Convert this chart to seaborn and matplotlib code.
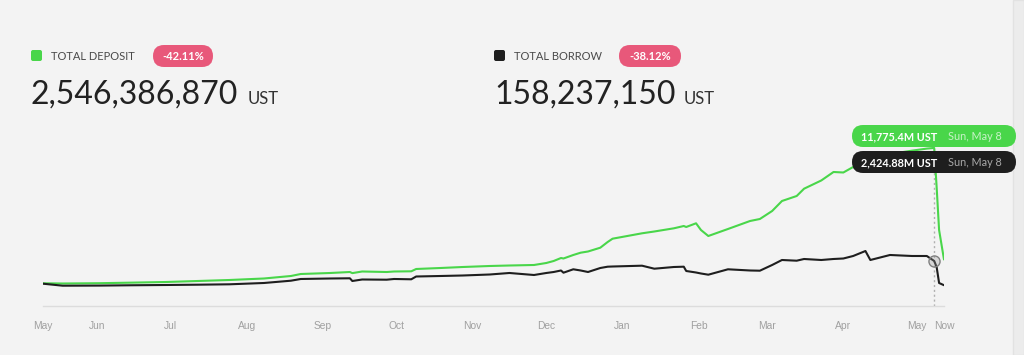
import pandas as pd
import numpy as np
import matplotlib
matplotlib.use('Agg')
import matplotlib.pyplot as plt
import matplotlib.dates as mdates
from matplotlib.patches import FancyBboxPatch, Rectangle
import seaborn as sns

# ~~~~~~~~~~~~~~~~~~~~~~~~~~~~ data (million UST) ~~~~~~~~~~~~~~~~~~~~~~~~~~~~
dates = ["2021-05-10", "2021-05-18", "2021-06-02", "2021-06-14", "2021-06-29", "2021-07-12",
         "2021-07-25", "2021-08-08", "2021-08-19", "2021-08-23", "2021-09-04", "2021-09-12",
         "2021-09-13", "2021-09-17", "2021-09-27", "2021-09-30", "2021-10-07", "2021-10-09",
         "2021-10-19", "2021-10-28", "2021-11-08", "2021-11-16", "2021-11-26", "2021-12-01",
         "2021-12-04", "2021-12-07", "2021-12-08", "2021-12-12", "2021-12-15", "2021-12-18",
         "2021-12-23", "2021-12-26", "2021-12-28", "2022-01-09", "2022-01-14", "2022-01-22",
         "2022-01-26", "2022-01-27", "2022-01-31", "2022-02-02", "2022-02-05", "2022-02-13",
         "2022-02-22", "2022-02-26", "2022-03-03", "2022-03-07", "2022-03-13", "2022-03-16",
         "2022-03-23", "2022-03-28", "2022-04-01", "2022-04-05", "2022-04-10", "2022-04-12",
         "2022-04-20", "2022-04-29", "2022-05-05", "2022-05-08", "2022-05-09", "2022-05-10",
         "2022-05-12"]
deposit = [579, 562, 587, 629, 686, 769, 852, 976, 1183, 1348,
           1431, 1513, 1420, 1555, 1513, 1555, 1571, 1762, 1845, 1927,
           2010, 2051, 2093, 2258, 2423, 2671, 2630, 2920, 3110, 3209,
           3523, 3995, 4268, 4714, 4863, 5128, 5318, 5236, 5542, 4987,
           4491, 5070, 5732, 5897, 6559, 7386, 7800, 8403, 9082, 9785,
           9743, 10198, 10694, 10860, 11273, 11550, 11720, 11775, 8543, 4987,
           2546]
borrow = [546, 380, 389, 414, 438, 463, 496, 604, 794, 935,
          976, 993, 769, 893, 877, 935, 910, 1141, 1183, 1224,
          1307, 1431, 1265, 1431, 1513, 1638, 1456, 1737, 1638, 1513,
          1844, 1952, 1968, 2035, 1786, 1927, 1952, 1596, 1472, 1390,
          1290, 1737, 1638, 1621, 2093, 2506, 2448, 2589, 2506, 2589,
          2630, 2837, 3250, 2506, 2920, 2837, 2837, 2425, 1927, 604,
          420]
tick_dates = ["2021-05-10", "2021-06-01", "2021-07-01", "2021-08-01", "2021-09-01", "2021-10-01",
              "2021-11-01", "2021-12-01", "2022-01-01", "2022-02-01", "2022-03-01", "2022-04-01",
              "2022-05-01", "2022-05-12"]
tick_labels = ["May", "Jun", "Jul", "Aug", "Sep", "Oct", "Nov", "Dec", "Jan", "Feb", "Mar",
               "Apr", "May", "Now"]
hover_date = "2022-05-08"

GREEN = '#49d64a'
DARK = '#1e1e1e'
BG = '#f3f3f3'

df = pd.DataFrame({'date': pd.to_datetime(dates * 2),
                   'value': deposit + borrow,
                   'series': ['Total Deposit'] * len(dates) + ['Total Borrow'] * len(dates)})

sns.set_theme(style='white')
plt.rcParams['font.family'] = ['Lato', 'DejaVu Sans']

fig = plt.figure(figsize=(10.24, 3.55), dpi=100, facecolor=BG)
W, H = 1024, 355


def px(x, y):
    # pixel (top-left origin) -> inches for dpi_scale_trans
    return x / 100, (H - y) / 100


def pill(x0, y0, x1, y1, color, r=10):
    xa, ya = px(x0, y1)
    p = FancyBboxPatch((xa, ya), (x1 - x0) / 100, (y1 - y0) / 100,
                       boxstyle='round,pad=0,rounding_size=%f' % (r / 100),
                       transform=fig.dpi_scale_trans, fc=color, ec='none', zorder=5)
    fig.add_artist(p)


def ftext(x, y, s, **kw):
    xa, ya = px(x, y)
    fig.text(xa, ya, s, transform=fig.dpi_scale_trans, zorder=6, **kw)


# right page strip
fig.add_artist(Rectangle((1013 / W, 0), 11 / W, 1, transform=fig.transFigure,
                         fc='#ececec', ec='#e2e2e2', lw=1, zorder=0))

# ~~~~~~~~~~~~~~~~~~~~~~~~~~~~ chart ~~~~~~~~~~~~~~~~~~~~~~~~~~~~
ax = fig.add_axes([43 / W, (H - 306) / H, 901 / W, 166 / H])
ax.set_facecolor('none')
sns.lineplot(data=df, x='date', y='value', hue='series',
             palette={'Total Deposit': GREEN, 'Total Borrow': DARK},
             hue_order=['Total Deposit', 'Total Borrow'],
             linewidth=1.5, legend=False, ax=ax)

hd = pd.Timestamp(hover_date)
ax.axvline(hd, color='#b0b0b0', lw=1, ls=(0, (1.5, 2)), zorder=1)
ax.plot([hd], [borrow[dates.index(hover_date)]], 'o', ms=8, mfc=(0.6, 0.6, 0.6, 0.3),
        mec='#808080', mew=1, zorder=4)

ax.set_xlim(pd.Timestamp(dates[0]), pd.Timestamp(dates[-1]))
ax.set_ylim(-1299, 12431)
ax.set_xticks(pd.to_datetime(tick_dates))
ax.set_xticklabels(tick_labels, family=['Liberation Sans', 'DejaVu Sans'], fontsize=7.4, color='#a0a0a0')
ax.tick_params(axis='x', length=0, pad=11)
ax.set_yticks([])
ax.set_xlabel('')
ax.set_ylabel('')
for s in ['top', 'right', 'left']:
    ax.spines[s].set_visible(False)
ax.spines['bottom'].set_color('#dcdcdc')
ax.spines['bottom'].set_linewidth(1)

# ~~~~~~~~~~~~~~~~~~~~~~~~~~~~ header ~~~~~~~~~~~~~~~~~~~~~~~~~~~~
pill(31, 50, 42, 61, GREEN, r=2)
ftext(51, 60, 'TOTAL DEPOSIT', fontsize=8, color='#4a4a4a', va='baseline')
pill(153, 45, 213, 67, '#e8587a', r=11)
ftext(183, 56.5, '-42.11%', fontsize=8, color='white', fontweight='bold', ha='center', va='center')
ftext(31, 104, '2,546,386,870', fontsize=23, color='#222222', va='baseline')
ftext(248, 104, 'UST', fontsize=12, color='#333333', va='baseline')

pill(494, 50, 505, 61, DARK, r=2)
ftext(514, 60, 'TOTAL BORROW', fontsize=8, color='#4a4a4a', va='baseline')
pill(619, 45, 681, 67, '#e8587a', r=11)
ftext(650, 56.5, '-38.12%', fontsize=8, color='white', fontweight='bold', ha='center', va='center')
ftext(494, 104, '158,237,150', fontsize=23, color='#222222', va='baseline')
ftext(684, 104, 'UST', fontsize=12, color='#333333', va='baseline')

# ~~~~~~~~~~~~~~~~~~~~~~~~~~~~ tooltips ~~~~~~~~~~~~~~~~~~~~~~~~~~~~
pill(852, 125, 1016, 147, GREEN, r=11)
ftext(861, 136.5, '11,775.4M UST', fontsize=7.8, color='white', fontweight='bold', va='center')
ftext(948, 136.5, 'Sun, May 8', fontsize=7.8, color='#c8f3c8', va='center')
pill(852, 151, 1016, 173, DARK, r=11)
ftext(861, 162.5, '2,424.88M UST', fontsize=7.8, color='white', fontweight='bold', va='center')
ftext(948, 162.5, 'Sun, May 8', fontsize=7.8, color='#a8a8a8', va='center')

fig.savefig('out.png', dpi=100, facecolor=fig.get_facecolor())
